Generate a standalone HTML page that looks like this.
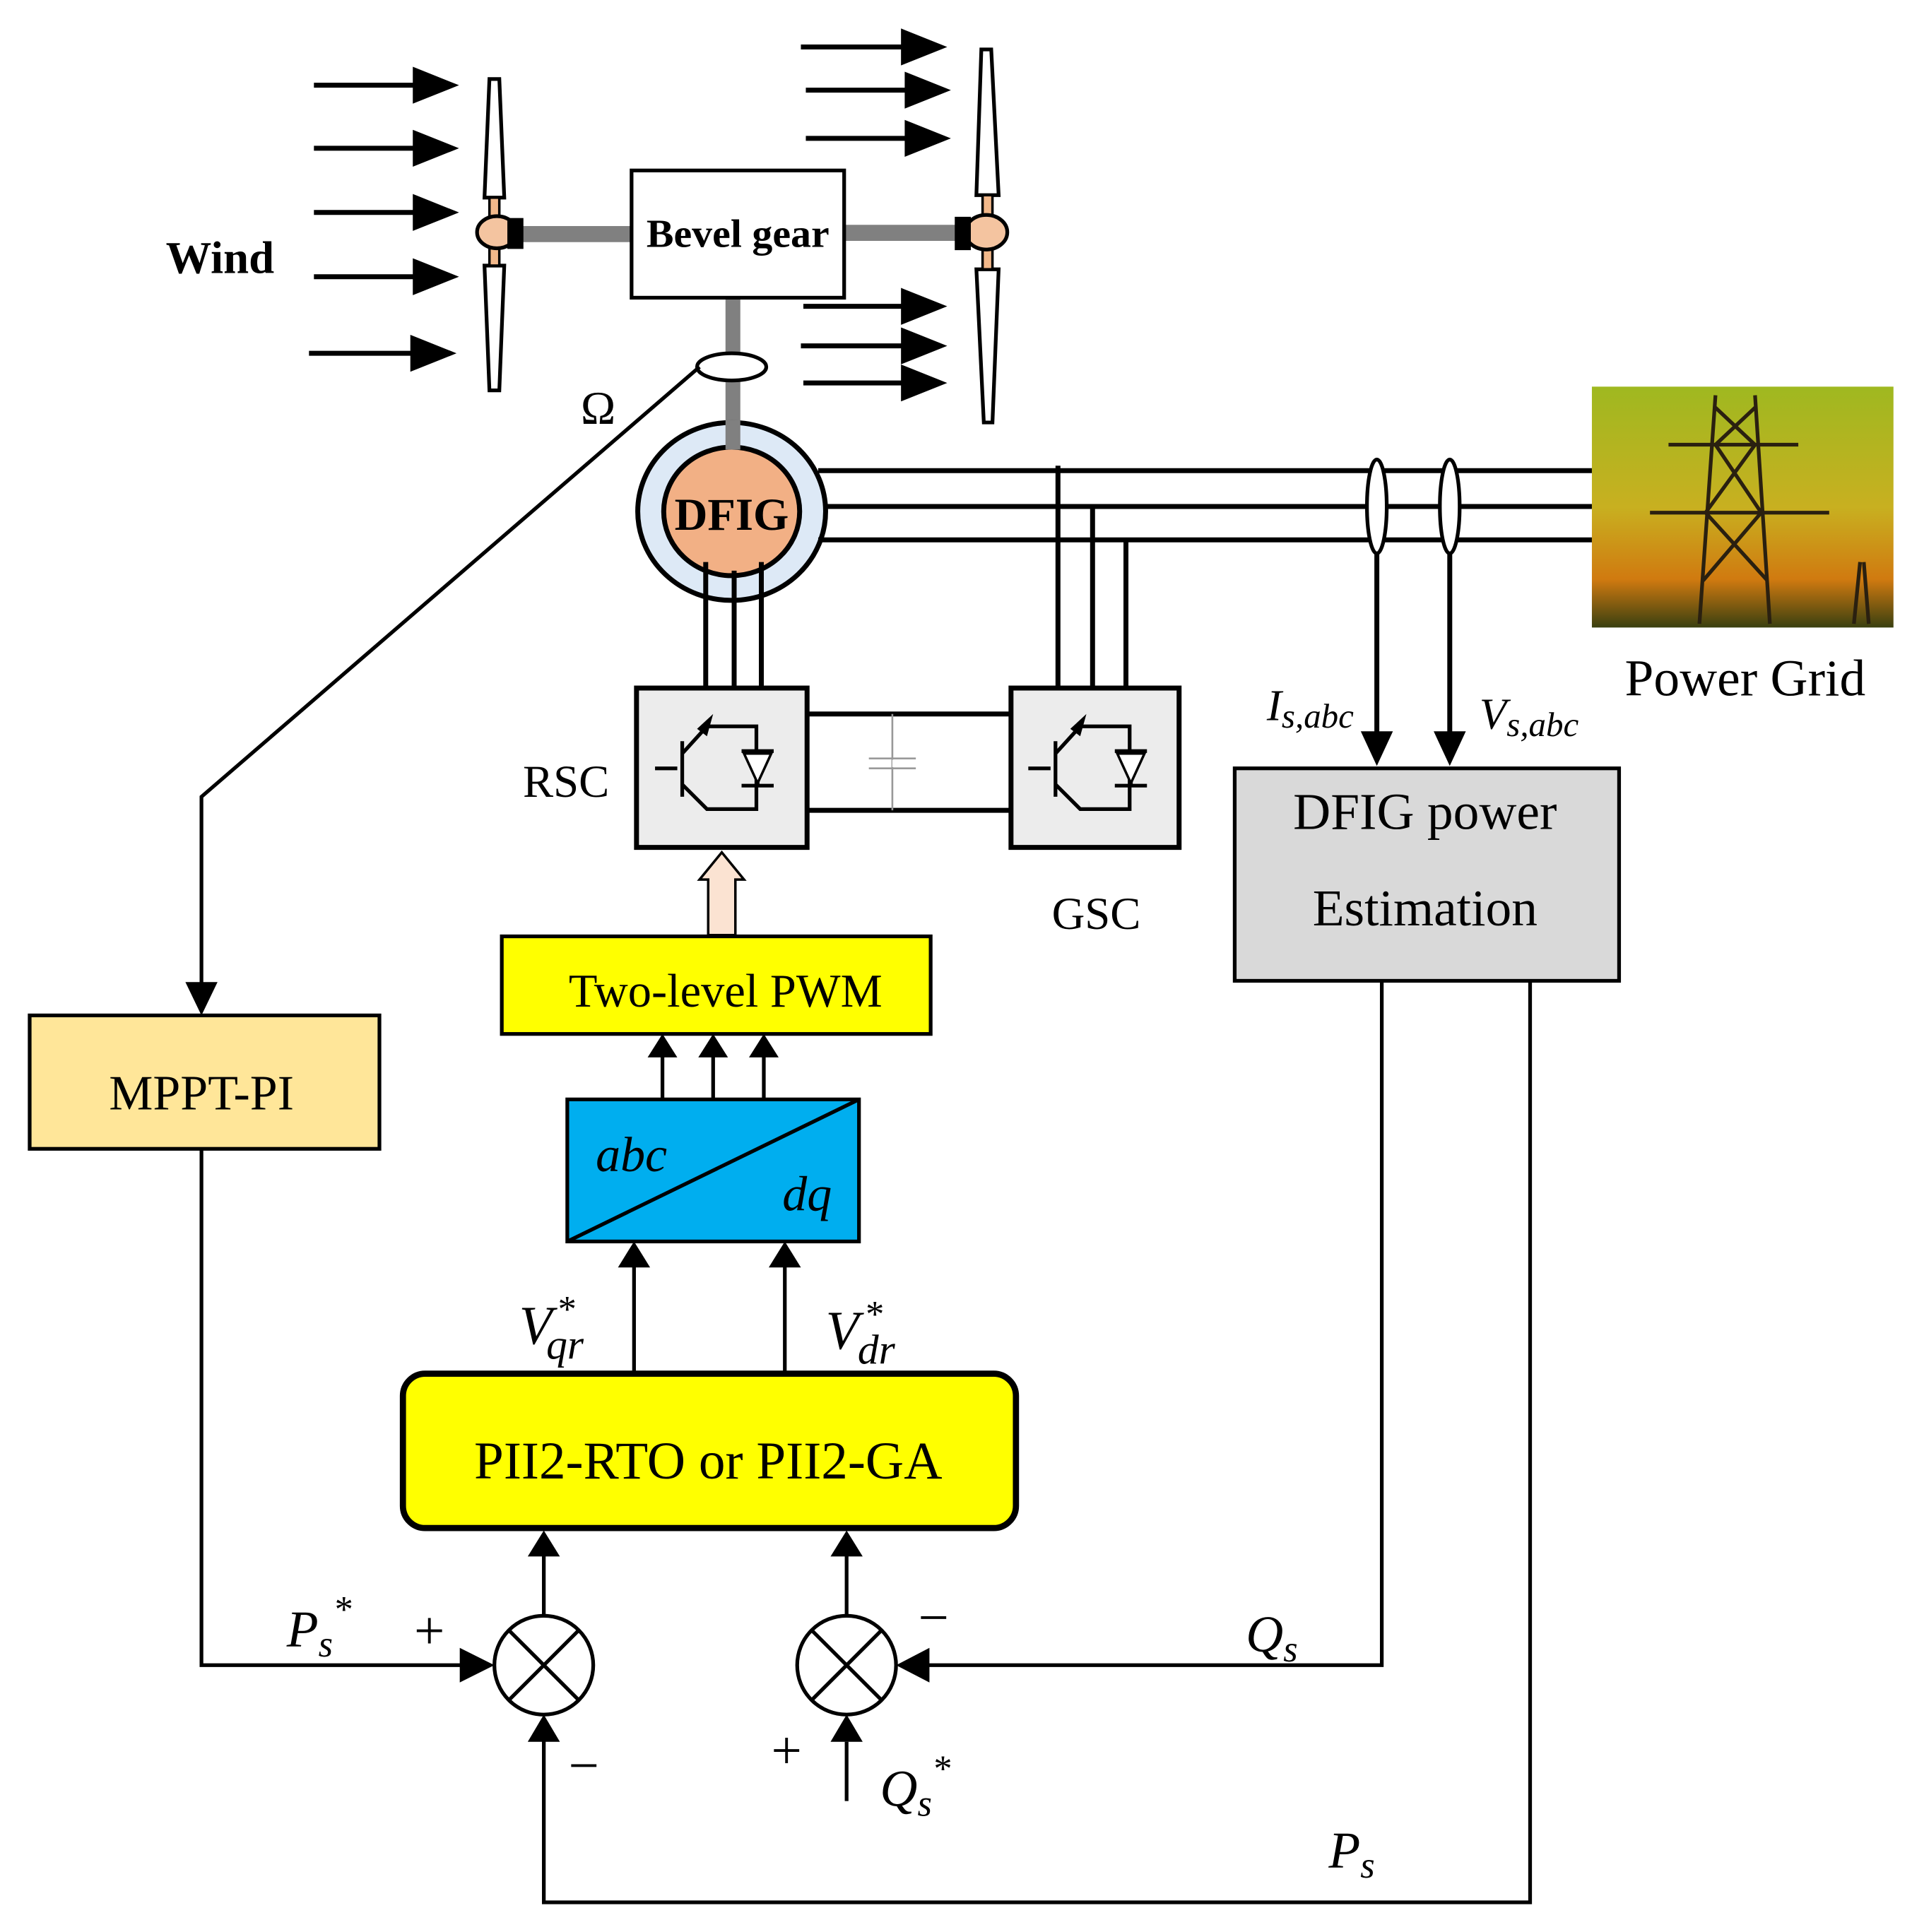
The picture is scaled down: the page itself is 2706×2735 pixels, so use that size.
<!DOCTYPE html>
<html><head><meta charset="utf-8"><style>html,body{margin:0;padding:0;background:#fff}svg{display:block}</style></head>
<body>
<svg width="2706" height="2735" viewBox="0 0 1547 1564" preserveAspectRatio="none" xmlns="http://www.w3.org/2000/svg" font-family="Liberation Serif, serif">
<defs>
<linearGradient id="g" x1="0" y1="0" x2="0" y2="1"><stop offset="0" stop-color="#9fb820"/><stop offset="0.5" stop-color="#c8b020"/><stop offset="0.8" stop-color="#d07a10"/><stop offset="1" stop-color="#3a4010"/></linearGradient>
</defs>
<g stroke="#000" stroke-width="4">
<line x1="254" y1="69" x2="340" y2="69"/><path d="M336,57L366,69L336,81z"/>
<line x1="254" y1="120" x2="340" y2="120"/><path d="M336,108L366,120L336,132z"/>
<line x1="254" y1="172" x2="340" y2="172"/><path d="M336,160L366,172L336,184z"/>
<line x1="254" y1="224" x2="340" y2="224"/><path d="M336,212L366,224L336,236z"/>
<line x1="250" y1="286" x2="338" y2="286"/><path d="M334,274L364,286L334,298z"/>
<line x1="648" y1="38" x2="735" y2="38"/><path d="M731,26L761,38L731,50z"/>
<line x1="652" y1="73" x2="738" y2="73"/><path d="M734,61L764,73L734,85z"/>
<line x1="652" y1="112" x2="738" y2="112"/><path d="M734,100L764,112L734,124z"/>
<line x1="650" y1="248" x2="735" y2="248"/><path d="M731,236L761,248L731,260z"/>
<line x1="648" y1="280" x2="735" y2="280"/><path d="M731,268L761,280L731,292z"/>
<line x1="650" y1="310" x2="735" y2="310"/><path d="M731,298L761,310L731,322z"/>
</g>
<rect x="420" y="183" width="92" height="13" fill="#808080"/>
<rect x="682" y="182" width="95" height="13" fill="#808080"/>
<rect x="587" y="241" width="12" height="48" fill="#808080"/>
<rect x="587" y="308" width="12" height="60" fill="#808080"/>
<g stroke="#000" stroke-width="3" fill="#fff">
<path d="M396,64 L404,64 L408,160 L392,160 Z"/>
<path d="M392,215 L408,215 L404,316 L396,316 Z"/>
<rect x="396" y="160" width="8" height="55" fill="#f2b88a" stroke-width="2"/>
<ellipse cx="402" cy="188" rx="16" ry="13" fill="#f4c4a0"/>
<rect x="412" y="178" width="10" height="22" fill="#000"/>
<path d="M794,40 L802,40 L808,158 L790,158 Z"/>
<path d="M790,218 L808,218 L803,342 L796,342 Z"/>
<rect x="795" y="158" width="8" height="60" fill="#f2b88a" stroke-width="2"/>
<ellipse cx="798" cy="188" rx="17" ry="14" fill="#f4c4a0"/>
<rect x="774" y="177" width="10" height="24" fill="#000"/>
</g>
<rect x="511" y="138" width="172" height="103" fill="#fff" stroke="#000" stroke-width="3"/>
<text x="597" y="200" font-size="32" font-weight="bold" text-anchor="middle" textLength="148" lengthAdjust="spacingAndGlyphs">Bevel gear</text>
<text x="178" y="221" font-size="37" font-weight="bold" text-anchor="middle">Wind</text>
<ellipse cx="592" cy="297" rx="28" ry="11" fill="#fff" stroke="#000" stroke-width="3"/>
<polyline points="566,297 163,645 163,805" fill="none" stroke="#000" stroke-width="3"/>
<path d="M150,795L163,822L176,795z"/>
<text x="484" y="343" font-size="38" text-anchor="middle">Ω</text>
<ellipse cx="592" cy="414" rx="76" ry="72" fill="#dde9f6" stroke="#000" stroke-width="4"/>
<ellipse cx="592" cy="414" rx="55" ry="52" fill="#f2b085" stroke="#000" stroke-width="4"/>
<text x="592" y="429" font-size="37" font-weight="bold" text-anchor="middle">DFIG</text>
<rect x="587" y="340" width="12" height="24" fill="#808080"/>
<g stroke="#000" stroke-width="4" fill="none">
<line x1="662" y1="381" x2="1288" y2="381"/>
<line x1="668" y1="410" x2="1288" y2="410"/>
<line x1="662" y1="437" x2="1288" y2="437"/>
<line x1="856" y1="377" x2="856" y2="557"/>
<line x1="884" y1="410" x2="884" y2="557"/>
<line x1="911" y1="437" x2="911" y2="557"/>
<line x1="571" y1="455" x2="571" y2="557"/>
<line x1="594" y1="462" x2="594" y2="557"/>
<line x1="616" y1="455" x2="616" y2="557"/>
<line x1="652" y1="578" x2="818" y2="578"/>
<line x1="652" y1="656" x2="818" y2="656"/>
</g>
<line x1="722" y1="578" x2="722" y2="656" stroke="#999" stroke-width="1.5"/>
<line x1="703" y1="614" x2="741" y2="614" stroke="#999" stroke-width="1.5"/>
<line x1="703" y1="622" x2="741" y2="622" stroke="#999" stroke-width="1.5"/>
<rect x="722" y="615" width="2" height="6" fill="#fff"/>
<ellipse cx="1114" cy="410" rx="8" ry="38" fill="#fff" stroke="#000" stroke-width="3"/>
<ellipse cx="1173" cy="410" rx="8" ry="38" fill="#fff" stroke="#000" stroke-width="3"/>
<g stroke="#000" stroke-width="4">
<line x1="1114" y1="448" x2="1114" y2="598"/><line x1="1173" y1="448" x2="1173" y2="598"/>
</g>
<path d="M1101,592L1114,620L1127,592z"/><path d="M1160,592L1173,620L1186,592z"/>
<text x="1025" y="583" font-size="36" font-style="italic">I<tspan font-size="28" dy="6">s,abc</tspan></text>
<text x="1197" y="590" font-size="36" font-style="italic">V<tspan font-size="28" dy="6">s,abc</tspan></text>
<rect x="1288" y="313" width="244" height="195" fill="url(#g)"/>
<g stroke="#2a2010" stroke-width="3" fill="none">
<path d="M1388,320L1375,505M1420,320L1432,505M1350,360L1455,360M1335,415L1480,415M1388,330L1420,360L1380,415L1430,470M1420,330L1388,360L1425,415L1378,470"/>
<path d="M1505,455L1500,505M1508,455L1512,505"/>
</g>
<text x="1412" y="563" font-size="42" text-anchor="middle">Power Grid</text>
<g stroke="#000" stroke-width="4">
<rect x="515" y="557" width="138" height="129" fill="#ececec"/>
<rect x="818" y="557" width="136" height="129" fill="#ececec"/>
</g>
<g stroke="#000" stroke-width="3" fill="none">
<path d="M530,622L548,622M552,600L552,645M552,610L572,588L612,588L612,655L572,655L552,635"/>
<path d="M600,608L626,608M613,608L613,636M600,636L626,636"/>
<path d="M832,622L850,622M854,600L854,645M854,610L874,588L914,588L914,655L874,655L854,635"/>
<path d="M902,608L928,608M915,608L915,636M902,636L928,636"/>
</g>
<path d="M602,610L624,610L613,634z" fill="#fff" stroke="#000" stroke-width="2"/>
<path d="M904,610L926,610L915,634z" fill="#fff" stroke="#000" stroke-width="2"/>
<path d="M564,590L577,578L572,596z"/><path d="M866,590L879,578L874,596z"/>
<text x="458" y="645" font-size="37" text-anchor="middle">RSC</text>
<text x="887" y="752" font-size="37" text-anchor="middle">GSC</text>
<path d="M573,757L573,712L566,712L584,690L602,712L595,712L595,757z" fill="#fbe3d2" stroke="#000" stroke-width="2"/>
<rect x="999" y="622" width="311" height="172" fill="#d9d9d9" stroke="#000" stroke-width="3"/>
<text x="1153" y="671" font-size="42" text-anchor="middle">DFIG power</text>
<text x="1153" y="749" font-size="42" text-anchor="middle">Estimation</text>
<rect x="406" y="758" width="347" height="79" fill="#ffff00" stroke="#000" stroke-width="3"/>
<text x="587" y="815" font-size="38" text-anchor="middle">Two-level PWM</text>
<g stroke="#000" stroke-width="3">
<line x1="536" y1="890" x2="536" y2="850"/><line x1="577" y1="890" x2="577" y2="850"/><line x1="618" y1="890" x2="618" y2="850"/>
</g>
<path d="M524,856L536,837L548,856z"/><path d="M565,856L577,837L589,856z"/><path d="M606,856L618,837L630,856z"/>
<rect x="459" y="890" width="236" height="115" fill="#00aeef" stroke="#000" stroke-width="3"/>
<line x1="459" y1="1005" x2="695" y2="890" stroke="#000" stroke-width="3"/>
<text x="482" y="948" font-size="40" font-style="italic">abc</text>
<text x="633" y="980" font-size="40" font-style="italic">dq</text>
<g stroke="#000" stroke-width="3">
<line x1="513" y1="1112" x2="513" y2="1020"/><line x1="635" y1="1112" x2="635" y2="1020"/>
</g>
<path d="M500,1026L513,1005L526,1026z"/><path d="M622,1026L635,1005L648,1026z"/>
<text x="420" y="1088" font-size="44" font-style="italic">V</text>
<text x="450" y="1070" font-size="30" font-style="italic">*</text>
<text x="442" y="1100" font-size="34" font-style="italic">qr</text>
<text x="668" y="1092" font-size="44" font-style="italic">V</text>
<text x="699" y="1074" font-size="30" font-style="italic">*</text>
<text x="694" y="1104" font-size="34" font-style="italic">dr</text>
<rect x="326" y="1112" width="496" height="125" rx="18" fill="#ffff00" stroke="#000" stroke-width="5"/>
<text x="573" y="1197" font-size="43" text-anchor="middle">PII2-RTO or PII2-GA</text>
<rect x="24" y="822" width="283" height="108" fill="#ffe699" stroke="#000" stroke-width="3"/>
<text x="163" y="898" font-size="40" text-anchor="middle">MPPT-PI</text>
<g stroke="#000" stroke-width="3" fill="#fff">
<circle cx="440" cy="1348" r="40"/><line x1="412" y1="1320" x2="468" y2="1376"/><line x1="468" y1="1320" x2="412" y2="1376"/>
<circle cx="685" cy="1348" r="40"/><line x1="657" y1="1320" x2="713" y2="1376"/><line x1="713" y1="1320" x2="657" y2="1376"/>
</g>
<g stroke="#000" stroke-width="3" fill="none">
<line x1="440" y1="1308" x2="440" y2="1255"/><line x1="685" y1="1308" x2="685" y2="1255"/>
<polyline points="163,930 163,1348 380,1348"/>
<polyline points="1118,794 1118,1348 748,1348"/>
<polyline points="1238,794 1238,1540 440,1540 440,1408"/>
<line x1="685" y1="1458" x2="685" y2="1410"/>
</g>
<path d="M372,1334L400,1348L372,1362z" fill="#000"/><path d="M752,1334L725,1348L752,1362z" fill="#000"/>
<path d="M427,1410L440,1388L453,1410z" fill="#000"/><path d="M672,1410L685,1388L698,1410z" fill="#000"/>
<text x="232" y="1333" font-size="42" font-style="italic">P<tspan font-size="30" dy="8">s</tspan><tspan font-size="30" dy="-28">*</tspan></text>
<text x="335" y="1335" font-size="44">+</text>
<text x="460" y="1444" font-size="44">−</text>
<text x="743" y="1324" font-size="44">−</text>
<text x="624" y="1432" font-size="44">+</text>
<text x="1008" y="1337" font-size="42" font-style="italic">Q<tspan font-size="30" dy="8">s</tspan></text>
<text x="712" y="1462" font-size="42" font-style="italic">Q<tspan font-size="30" dy="8">s</tspan><tspan font-size="30" dy="-28">*</tspan></text>
<text x="1075" y="1512" font-size="42" font-style="italic">P<tspan font-size="30" dy="8">s</tspan></text>
<path d="M427,1260L440,1239L453,1260z" fill="#000"/><path d="M672,1260L685,1239L698,1260z" fill="#000"/>
</svg>
</body></html>
